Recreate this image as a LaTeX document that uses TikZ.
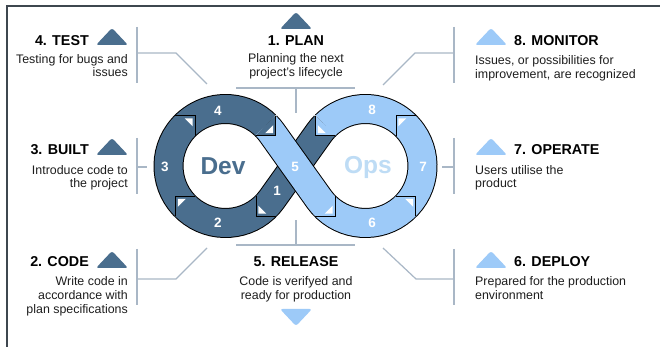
\documentclass[tikz,border=0pt]{standalone}
\usepackage{fontspec}
\setmainfont{Liberation Sans}
\usetikzlibrary{calc}
\definecolor{devblue}{HTML}{4A6E8E}
\definecolor{opsblue}{HTML}{9DCAF8}
\definecolor{opstext}{HTML}{BEDCF5}
\definecolor{conn}{HTML}{A9B7C6}
\definecolor{framecol}{HTML}{3E474F}
\definecolor{bodytext}{HTML}{1E1E1E}
\begin{document}
\begin{tikzpicture}[x=1pt,y=1pt,
  title/.style={font=\fontsize{14.3}{16}\selectfont\bfseries, text=black, inner sep=0pt},
  body/.style={font=\fontsize{12.4}{14}\selectfont, text=bodytext, inner sep=0pt},
  num/.style={font=\fontsize{13.5}{15}\selectfont\bfseries, text=white, inner sep=0pt},
  connector/.style={draw=conn, line width=1.2pt},
  band/.style={draw=black, line width=1pt, double distance=28pt, double=#1},
  notchline/.style={draw=black, line width=0.8pt, line join=miter},
  uptri/.pic={\fill[#1, rounded corners=2.5pt] (-16,0) -- (0,17) -- (16,0) -- cycle;},
  downtri/.pic={\fill[#1, rounded corners=2.5pt] (-16,0) -- (0,-17) -- (16,0) -- cycle;},
  notch/.pic={
    \path[fill=#1] (0,19.8) -- (0,0) -- (19.8,0) -- cycle;
    \draw[notchline] (0,19.8) -- (0,0) -- (19.8,0);
    \fill[white] (2.5,2.5) -- (10.5,2.5) -- (2.5,10.5) -- cycle;
  },
]
\useasboundingbox[fill=white] (0,0) rectangle (660,347);

% frame
\draw[framecol, line width=2pt] (7,0) -- (7,341) -- (660,341);

% infinity loop
\coordinate (C1) at (225.5,181);
\coordinate (C2) at (365.5,181);
\draw[band=devblue] ($(C2)+(135:57)$) arc[start angle=135, end angle=144.5, radius=57]
  -- ($(C1)+(-35.5:57)$) arc[start angle=-35.5, end angle=-315, radius=57];
\draw[band=opsblue] ($(C1)+(45:57)$) arc[start angle=45, end angle=35.5, radius=57]
  -- ($(C2)+(215.5:57)$) arc[start angle=215.5, end angle=495, radius=57];

% notches
\pic[xscale=-1, yscale=-1] at (195.1,231.2) {notch=none};
\pic[yscale=-1] at (175.3,150.6) {notch=none};
\pic at (255.9,130.8) {notch=none};
\pic[xscale=-1] at (275.7,211.4) {notch=devblue};
\pic at (315.3,211.4) {notch=opsblue};
\pic[yscale=-1] at (395.9,231.2) {notch=none};
\pic[xscale=-1, yscale=-1] at (415.7,150.6) {notch=none};
\pic[xscale=-1] at (335.1,130.8) {notch=none};

% numbers and words
\node[num] (n4) at (218,236) {4};
\node[num] (n3) at (165,180) {3};
\node[num] (n2) at (218,124) {2};
\node[num] (n1) at (277,156) {1};
\node[num] (n5) at (295,180) {5};
\node[num] (n8) at (372,237) {8};
\node[num] (n7) at (423,180) {7};
\node[num] (n6) at (372,124) {6};
\node[font=\fontsize{24.5}{26}\selectfont\bfseries, text=devblue, inner sep=0pt] (dev) at (223,181) {Dev};
\node[font=\fontsize{24.5}{26}\selectfont\bfseries, text=opstext, inner sep=0pt] (ops) at (368,180) {Ops};

% connectors
\coordinate (l1a) at (137,320); \coordinate (l1b) at (137,264);
\coordinate (l1c) at (137,294); \coordinate (l1d) at (176,294); \coordinate (l1e) at (207,263);
\draw[connector] (l1a) -- (l1b);
\draw[connector] (l1c) -- (l1d) -- (l1e);
\coordinate (l2a) at (137,209); \coordinate (l2b) at (137,153);
\coordinate (l2c) at (137,180); \coordinate (l2d) at (147,180);
\draw[connector] (l2a) -- (l2b);
\draw[connector] (l2c) -- (l2d);
\coordinate (l3a) at (137,98); \coordinate (l3b) at (137,42);
\coordinate (l3c) at (137,68); \coordinate (l3d) at (176,68); \coordinate (l3e) at (207,99);
\draw[connector] (l3a) -- (l3b);
\draw[connector] (l3c) -- (l3d) -- (l3e);
\coordinate (ta) at (236,259); \coordinate (tb) at (355,259);
\coordinate (tc) at (296,259); \coordinate (td) at (296,234);
\draw[connector] (ta) -- (tb);
\draw[connector] (tc) -- (td);
\coordinate (ba) at (236,102); \coordinate (bb) at (355,102);
\coordinate (bc) at (296,102); \coordinate (bd) at (296,127);
\draw[connector] (ba) -- (bb);
\draw[connector] (bc) -- (bd);
\coordinate (r1a) at (454,320); \coordinate (r1b) at (454,264);
\coordinate (r1c) at (454,294); \coordinate (r1d) at (415,294); \coordinate (r1e) at (383,262);
\draw[connector] (r1a) -- (r1b);
\draw[connector] (r1c) -- (r1d) -- (r1e);
\coordinate (r2a) at (454,209); \coordinate (r2b) at (454,153);
\coordinate (r2c) at (454,180); \coordinate (r2d) at (442,180);
\draw[connector] (r2a) -- (r2b);
\draw[connector] (r2c) -- (r2d);
\coordinate (r3a) at (454,98); \coordinate (r3b) at (454,42);
\coordinate (r3c) at (454,68); \coordinate (r3d) at (416,68); \coordinate (r3e) at (383,99);
\draw[connector] (r3a) -- (r3b);
\draw[connector] (r3c) -- (r3d) -- (r3e);

% triangles
\pic at (112,302) {uptri=devblue};
\pic at (112,192) {uptri=devblue};
\pic at (112,79) {uptri=devblue};
\pic at (296,318) {uptri=devblue};
\pic at (296,38) {downtri=opsblue};
\pic at (491,302) {uptri=opsblue};
\pic at (491,192) {uptri=opsblue};
\pic at (491,79) {uptri=opsblue};

% left column
\node[title, anchor=base east] (t4) at (89,301) {4. TEST};
\node[body, anchor=base east] (b4a) at (128,283) {Testing for bugs and};
\node[body, anchor=base east] (b4b) at (128,270) {issues};
\node[title, anchor=base east] (t3) at (89,192) {3. BUILT};
\node[body, anchor=base east] (b3a) at (128,172) {Introduce code to};
\node[body, anchor=base east] (b3b) at (128,159) {the project};
\node[title, anchor=base east] (t2) at (89,80) {2. CODE};
\node[body, anchor=base east] (b2a) at (128,61) {Write code in};
\node[body, anchor=base east] (b2b) at (128,47) {accordance with};
\node[body, anchor=base east] (b2c) at (128,33) {plan specifications};

% centre column
\node[title, anchor=base] (t1) at (296,301) {1. PLAN};
\node[body, anchor=base] (b1a) at (296,284) {Planning the next};
\node[body, anchor=base] (b1b) at (296,270) {project’s lifecycle};
\node[title, anchor=base] (t5) at (296,80) {5. RELEASE};
\node[body, anchor=base] (b5a) at (296,61) {Code is verifyed and};
\node[body, anchor=base] (b5b) at (296,47) {ready for production};

% right column
\node[title, anchor=base west] (t8) at (514,301) {8. MONITOR};
\node[body, anchor=base west] (b8a) at (475,282) {Issues, or possibilities for};
\node[body, anchor=base west] (b8b) at (475,268) {improvement, are recognized};
\node[title, anchor=base west] (t7) at (514,192) {7. OPERATE};
\node[body, anchor=base west] (b7a) at (475,172) {Users utilise the};
\node[body, anchor=base west] (b7b) at (475,159) {product};
\node[title, anchor=base west] (t6) at (514,80) {6. DEPLOY};
\node[body, anchor=base west] (b6a) at (475,61) {Prepared for the production};
\node[body, anchor=base west] (b6b) at (475,47) {environment};
\end{tikzpicture}
\end{document}
